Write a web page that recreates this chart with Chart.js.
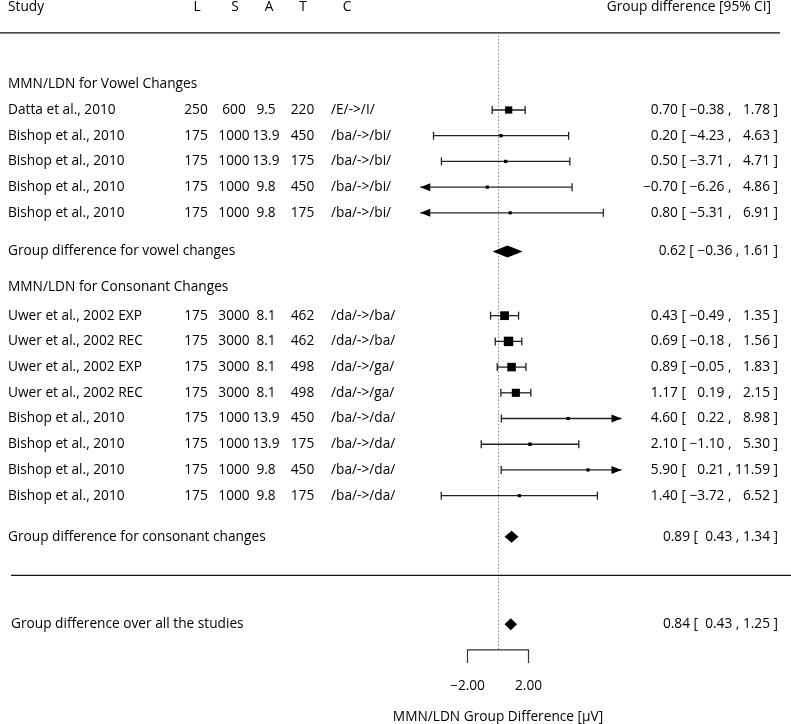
<!DOCTYPE html>
<html><head><meta charset="utf-8">
<script src="https://cdn.jsdelivr.net/npm/chart.js@4"></script>
<style>html,body{margin:0;padding:0;background:#fff}#wrap{width:791px;height:724px;position:relative}</style>
</head><body><div id="wrap"><canvas id="c"></canvas></div>
<script>
// ---- data ----
const columnHeaders = ["L", "S", "A", "T", "C"];
const vowelStudies = ["Datta et al., 2010", "Bishop et al., 2010", "Bishop et al., 2010", "Bishop et al., 2010", "Bishop et al., 2010"];
const vowelL = ["250", "175", "175", "175", "175"];
const vowelS = ["600", "1000", "1000", "1000", "1000"];
const vowelA = ["9.5", "13.9", "13.9", "9.8", "9.8"];
const vowelT = ["220", "450", "175", "450", "175"];
const vowelC = ["/E/->/I/", "/ba/->/bi/", "/ba/->/bi/", "/ba/->/bi/", "/ba/->/bi/"];
const vowelEst = [0.70, 0.20, 0.50, -0.70, 0.80];
const vowelLower = [-0.38, -4.23, -3.71, -6.26, -5.31];
const vowelUpper = [1.78, 4.63, 4.71, 4.86, 6.91];

const consStudies = ["Uwer et al., 2002 EXP", "Uwer et al., 2002 REC", "Uwer et al., 2002 EXP", "Uwer et al., 2002 REC", "Bishop et al., 2010", "Bishop et al., 2010", "Bishop et al., 2010", "Bishop et al., 2010"];
const consL = ["175", "175", "175", "175", "175", "175", "175", "175"];
const consS = ["3000", "3000", "3000", "3000", "1000", "1000", "1000", "1000"];
const consA = ["8.1", "8.1", "8.1", "8.1", "13.9", "13.9", "9.8", "9.8"];
const consT = ["462", "462", "498", "498", "450", "175", "450", "175"];
const consC = ["/da/->/ba/", "/da/->/ba/", "/da/->/ga/", "/da/->/ga/", "/ba/->/da/", "/ba/->/da/", "/ba/->/da/", "/ba/->/da/"];
const consEst = [0.43, 0.69, 0.89, 1.17, 4.60, 2.10, 5.90, 1.40];
const consLower = [-0.49, -0.18, -0.05, 0.19, 0.22, -1.10, 0.21, -3.72];
const consUpper = [1.35, 1.56, 1.83, 2.15, 8.98, 5.30, 11.59, 6.52];

const groupHeaders = ["MMN/LDN for Vowel Changes", "MMN/LDN for Consonant Changes"];
const summaryLabels = ["Group difference for vowel changes", "Group difference for consonant changes", "Group difference over all the studies"];
const summaryEst = [0.62, 0.89, 0.84];
const summaryLower = [-0.36, 0.43, 0.43];
const summaryUpper = [1.61, 1.34, 1.25];

const axisTicks = [-2, 2];
const axisTickLabels = ["\u22122.00", "2.00"];
const axisTitle = "MMN/LDN Group Difference [\u03bcV]";
const leftTitle = "Study";
const rightTitle = "Group difference [95% CI]";

// ---- layout (rows) ----
const vowelRows = [0, 1, 2, 3, 4];
const consRows = [8, 9, 10, 11, 12, 13, 14, 15];
const groupHeaderRows = [-1, 6.9];
const summaryRows = [5.5, 16.6, 20];
const FONT = '13.7px "Open Sans"';
const plotLo = -5.1, plotHi = 8.1;

const allEst = vowelEst.concat(consEst);
const allLo = vowelLower.concat(consLower);
const allHi = vowelUpper.concat(consUpper);
const allRows = vowelRows.concat(consRows);
// box size from inverse-variance weights (as metafor does)
const wts = allLo.map((lo, i) => { const se = (allHi[i] - lo) / 3.92; return 1 / (se * se); });
const wMin = Math.min(...wts), wMax = Math.max(...wts);
const psize = wts.map(w => (w - wMin) / (wMax - wMin) + 0.5);
const boxUnit = 6.3;

const FSP = "\u2007";
function fmt(v) { return (v < 0 ? "\u2212" : "") + Math.abs(v).toFixed(2); }
function padL(v) { return (v < 0 ? "" : FSP) + fmt(v); }
function padU(v) { return (v >= 0 && v < 10 ? FSP : "") + fmt(v); }
function ciText(e, l, u) { return fmt(e) + " [ " + padL(l) + " , " + padU(u) + " ]"; }
function sumText(e, l, u) { return fmt(e) + " [ " + (l < 0 ? "" : " ") + fmt(l) + " , " + fmt(u) + " ]"; }

const forest = {
  id: 'forest',
  beforeDatasetsDraw(chart) {
    const ctx = chart.ctx, xs = chart.scales.x, ys = chart.scales.y;
    const X = v => xs.getPixelForValue(v), Y = v => ys.getPixelForValue(v);
    ctx.save();
    // reference line
    ctx.strokeStyle = '#888'; ctx.lineWidth = 1; ctx.setLineDash([1.5, 2]);
    ctx.beginPath(); ctx.moveTo(Math.round(X(0)) + 0.5, Y(-2.9)); ctx.lineTo(Math.round(X(0)) + 0.5, Y(21)); ctx.stroke();
    ctx.setLineDash([]);
    // error bars
    ctx.strokeStyle = '#222'; ctx.fillStyle = '#000'; ctx.lineWidth = 1.3;
    allLo.forEach((lo, i) => {
      const hi = allHi[i], y = Y(allRows[i]);
      const l = Math.max(lo, plotLo), r = Math.min(hi, plotHi);
      ctx.beginPath(); ctx.moveTo(X(l), y); ctx.lineTo(X(r), y); ctx.stroke();
      if (lo < plotLo) {
        const t = X(plotLo); ctx.beginPath(); ctx.moveTo(t, y); ctx.lineTo(t + 10, y - 4); ctx.lineTo(t + 10, y + 4); ctx.closePath(); ctx.fill();
      } else { ctx.beginPath(); ctx.moveTo(X(lo), y - 4); ctx.lineTo(X(lo), y + 4); ctx.stroke(); }
      if (hi > plotHi) {
        const t = X(plotHi); ctx.beginPath(); ctx.moveTo(t, y); ctx.lineTo(t - 10, y - 4); ctx.lineTo(t - 10, y + 4); ctx.closePath(); ctx.fill();
      } else { ctx.beginPath(); ctx.moveTo(X(hi), y - 4); ctx.lineTo(X(hi), y + 4); ctx.stroke(); }
    });
    ctx.restore();
  },
  afterDatasetsDraw(chart) {
    const ctx = chart.ctx, xs = chart.scales.x, ys = chart.scales.y;
    const X = v => xs.getPixelForValue(v), Y = v => ys.getPixelForValue(v);
    ctx.save();
    // diamonds
    ctx.fillStyle = '#000';
    summaryEst.forEach((e, i) => {
      const y = Y(summaryRows[i]);
      ctx.beginPath(); ctx.moveTo(X(summaryLower[i]), y); ctx.lineTo(X(e), y - 6); ctx.lineTo(X(summaryUpper[i]), y); ctx.lineTo(X(e), y + 6); ctx.closePath(); ctx.fill();
    });
    // rules
    ctx.strokeStyle = '#111'; ctx.lineWidth = 1.2;
    ctx.beginPath(); ctx.moveTo(0, Y(-3)); ctx.lineTo(780, Y(-3)); ctx.stroke();
    ctx.beginPath(); ctx.moveTo(11, Y(18.1)); ctx.lineTo(791, Y(18.1)); ctx.stroke();
    // axis bracket
    ctx.strokeStyle = '#333';
    const ya = Y(21);
    ctx.beginPath(); ctx.moveTo(X(axisTicks[0]), ya + 13); ctx.lineTo(X(axisTicks[0]), ya); ctx.lineTo(X(axisTicks[1]), ya); ctx.lineTo(X(axisTicks[1]), ya + 13); ctx.stroke();
    // text
    ctx.fillStyle = '#000'; ctx.font = FONT; ctx.textBaseline = 'middle';
    const txt = (s, x, y, a) => { ctx.textAlign = a; ctx.fillText(s, x, y); };
    txt(leftTitle, 8, Y(-4), 'left');
    txt(rightTitle, 771, Y(-4), 'right');
    const headX = [197, 235, 269, 303, 347];
    const colX = [196, 234, 266, 302.5, 347];
    columnHeaders.forEach((h, i) => txt(h, headX[i], Y(-4), 'center'));
    groupHeaders.forEach((h, i) => txt(h, 8, Y(groupHeaderRows[i]), 'left'));
    const rowsText = (names, L, S, A, T, C, E, lo, hi, rows) => names.forEach((n, i) => {
      const y = Y(rows[i]);
      txt(n, 8, y, 'left');
      txt(L[i], colX[0], y, 'center'); txt(S[i], colX[1], y, 'center'); txt(A[i], colX[2], y, 'center'); txt(T[i], colX[3], y, 'center');
      txt(C[i], 331, y, 'left');
      txt(ciText(E[i], lo[i], hi[i]), 778, y, 'right');
    });
    rowsText(vowelStudies, vowelL, vowelS, vowelA, vowelT, vowelC, vowelEst, vowelLower, vowelUpper, vowelRows);
    rowsText(consStudies, consL, consS, consA, consT, consC, consEst, consLower, consUpper, consRows);
    summaryLabels.forEach((s, i) => {
      const y = Y(summaryRows[i]);
      txt(s, i === 2 ? 11 : 8, y, 'left');
      txt(sumText(summaryEst[i], summaryLower[i], summaryUpper[i]), 778, y, 'right');
    });
    axisTicks.forEach((t, i) => txt(axisTickLabels[i], X(t), Y(22.4), 'center'));
    txt(axisTitle, X(0), Y(23.6), 'center');
    ctx.restore();
  }
};

new Chart(document.getElementById('c'), {
  type: 'scatter',
  data: { datasets: [{
    data: allEst.map((e, i) => ({ x: e, y: allRows[i] })),
    pointStyle: 'rect',
    pointRadius: psize.map(p => p * boxUnit / Math.SQRT2),
    pointHoverRadius: psize.map(p => p * boxUnit / Math.SQRT2),
    backgroundColor: '#000', borderWidth: 0, clip: false
  }]},
  options: {
    responsive: true, maintainAspectRatio: false, animation: false,
    layout: { padding: 0, autoPadding: false },
    plugins: { legend: { display: false }, tooltip: { enabled: false } },
    scales: {
      x: { type: 'linear', display: false, min: -498 / 15.25, max: (791 - 498) / 15.25 },
      y: { type: 'linear', display: false, reverse: true, min: -110 / 25.71, max: (724 - 110) / 25.71 }
    }
  },
  plugins: [forest]
});
</script></body></html>
